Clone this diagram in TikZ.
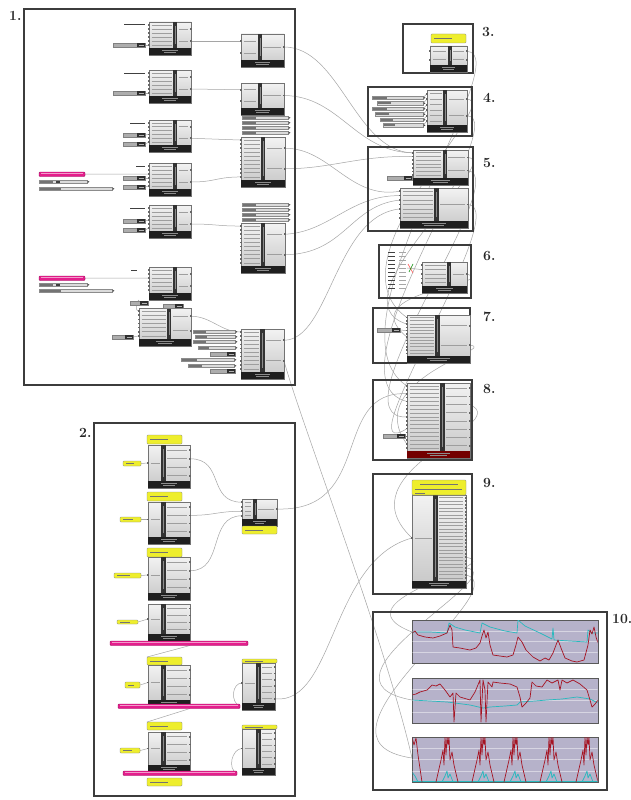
\documentclass[tikz,border=0pt]{standalone}
\usetikzlibrary{calc}
\pgfdeclarelayer{bg}
\pgfsetlayers{bg,main}
\definecolor{framec}{RGB}{60,60,60}
\definecolor{wirec}{RGB}{165,165,165}
\definecolor{magc}{RGB}{228,30,140}
\definecolor{yelc}{RGB}{238,238,45}
\definecolor{chbg}{RGB}{182,178,202}
\definecolor{redc}{RGB}{165,20,35}
\definecolor{tealc}{RGB}{40,185,190}
\colorlet{gridc}{chbg!55!white}
\tikzset{
 comp/.style={draw=black!55, line width=0.4pt, top color=black!5, bottom color=black!22, inner sep=0pt, outer sep=0pt, rectangle},
 stripc/.style={fill=black!80},
 barc/.style={fill=black!88},
 txtl/.style={draw=black!38, line width=0.8pt},
 wire/.style={draw=wirec, line width=0.5pt},
 frame/.style={draw=framec, line width=1.1pt},
 lbl/.style={font=\fontsize{14}{14}\selectfont\bfseries, anchor=north west, inner sep=0pt, text=black!85},
 ypan/.style={fill=yelc, draw=black!45, line width=0.4pt, inner sep=0pt, outer sep=0pt, rounded corners=0.8pt},
 magbar/.style={fill=magc, draw=magc!70!black, line width=0.4pt, inner sep=0pt, outer sep=0pt, rounded corners=1pt},
 slid/.style={fill=black!14, draw=black!45, line width=0.4pt, inner sep=0pt, outer sep=0pt},
 parbox/.style={fill=black!32, draw=black!50, line width=0.3pt, inner sep=0pt, outer sep=0pt},
 chart/.style={fill=chbg, draw=black!65, line width=1pt, inner sep=0pt, outer sep=0pt},
 redl/.style={draw=redc, line width=0.7pt, line join=round},
 teall/.style={draw=tealc, line width=0.7pt, line join=round},
}
% component: name, x, y, w, h, strip fraction, inputs, outputs
\newcommand\ghc[8]{%
  \node[comp, minimum width=#4pt, minimum height=#5pt, anchor=north west] (#1) at (#2,#3) {};
  \pgfmathsetmacro\ghsx{#2+#6*#4}%
  \pgfmathsetmacro\ghbh{#5-9}%
  \fill[stripc] (\ghsx-2.3,#3) rectangle (\ghsx+2.3,#3+#5-7);
  \draw[black!45, line width=0.7pt] (\ghsx,#3+4) -- (\ghsx,#3+#5-11);
  \fill[barc] (#2,#3+#5-7) rectangle (#2+#4,#3+#5);
  \draw[black!45, line width=0.6pt] (#2+#4*0.32,#3+#5-5) -- (#2+#4*0.68,#3+#5-5);
  \draw[black!45, line width=0.6pt] (#2+#4*0.36,#3+#5-2.3) -- (#2+#4*0.64,#3+#5-2.3);
  \foreach \i in {1,...,#7}{%
    \pgfmathsetmacro\ghy{#3+1+(\i-0.5)*\ghbh/#7}%
    \coordinate (#1-i\i) at (#2,\ghy);
    \draw[txtl] (#2+2.5,\ghy) -- (\ghsx-3.5,\ghy);
    \fill[black!60] (#2-0.8,\ghy-0.8) rectangle (#2+0.8,\ghy+0.8);
  }%
  \foreach \i in {1,...,#8}{%
    \pgfmathsetmacro\ghy{#3+1+(\i-0.5)*\ghbh/#8}%
    \coordinate (#1-o\i) at (#2+#4,\ghy);
    \draw[txtl] (\ghsx+3.5,\ghy) -- (#2+#4-3.5,\ghy);
    \fill[black!60] (#2+#4-0.8,\ghy-0.8) rectangle (#2+#4+0.8,\ghy+0.8);
  }%
}
% slider: name, x, y, w
\newcommand\gsl[4]{%
  \node[slid, minimum width=#4pt, minimum height=3.6pt, anchor=north west] (#1) at (#2,#3) {};
  \fill[black!55] (#2+0.7,#3+0.7) rectangle (#2+#4*0.3,#3+2.9);
  \fill[black!70] (#2+#4+0.5,#3+0.6) -- (#2+#4+2.5,#3+1.8) -- (#2+#4+0.5,#3+3) -- cycle;
}
% parameter pair: name, x, y, w
\newcommand\gpar[4]{%
  \node[parbox, minimum width=#4pt, minimum height=4pt, anchor=north west] (#1) at (#2,#3) {};
  \fill[black!82] (#2+#4-8,#3) rectangle (#2+#4,#3+4);
  \draw[black!30, line width=0.5pt] (#2+#4-6.5,#3+2) -- (#2+#4-1.5,#3+2);
}
% yellow panel: name, x, y, w, h
\newcommand\ypl[5]{%
  \node[ypan, minimum width=#4pt, minimum height=#5pt, anchor=north west] (#1) at (#2,#3) {};
  \draw[black!55, line width=0.6pt] (#2+3,#3+#5/2) -- (#2+#4*0.6,#3+#5/2);
}
% magenta bar: name, x, y, w
\newcommand\mgb[4]{%
  \node[magbar, minimum width=#4pt, minimum height=4.5pt, anchor=north west] (#1) at (#2,#3) {};
  \draw[magc!45!white, line width=0.6pt] (#2+2,#3+1.4) -- (#2+#4-2,#3+1.4);
}
% dark label line: x1, x2, y
\newcommand\dtl[3]{\draw[black!75, line width=1pt] (#1,#3) -- (#2,#3);}

\begin{document}
\begin{tikzpicture}[x=1pt,y=-1pt]
\useasboundingbox (0,0) rectangle (631,800);
\begin{pgfonlayer}{bg}
\fill[white] (0,0) rectangle (631,800);
\end{pgfonlayer}

% ---------- frames and labels ----------
\draw[frame] (24,9) rectangle (295,385);
\draw[frame] (94,423) rectangle (295,796);
\draw[frame] (403,24) rectangle (473,73);
\draw[frame] (368,87) rectangle (472,136);
\draw[frame] (368,147) rectangle (473,231);
\draw[frame] (379,245) rectangle (471,298);
\draw[frame] (373,308) rectangle (470,363);
\draw[frame] (373,380) rectangle (472,460);
\draw[frame] (373,474) rectangle (472,594);
\draw[frame] (373,612) rectangle (607,790);
\node[lbl] (L1) at (9,11) {1.};
\node[lbl] (L2) at (79,428) {2.};
\node[lbl] (L3) at (482,27) {3.};
\node[lbl] (L4) at (483,93) {4.};
\node[lbl] (L5) at (483,158) {5.};
\node[lbl] (L6) at (483,251) {6.};
\node[lbl] (L7) at (483,312) {7.};
\node[lbl] (L8) at (483,384) {8.};
\node[lbl] (L9) at (483,478) {9.};
\node[lbl] (L10) at (612,614) {10.};

% ---------- panel 1 ----------
\ghc{A1}{149}{22}{42}{33}{0.62}{6}{2}
\ghc{B1}{241}{34}{43}{33}{0.44}{2}{1}
\ghc{A2}{149}{70}{42}{33}{0.62}{6}{2}
\ghc{B2}{241}{83}{43}{32}{0.44}{2}{1}
\ghc{A3}{149}{120}{42}{32}{0.62}{6}{2}
\ghc{B3}{241}{137}{44}{50}{0.5}{10}{2}
\ghc{A4}{149}{163}{42}{33}{0.62}{6}{2}
\ghc{A5}{149}{205}{42}{33}{0.62}{6}{2}
\ghc{B4}{241}{223}{44}{50}{0.5}{10}{2}
\ghc{A6}{149}{267}{42}{33}{0.62}{6}{2}
\ghc{A7}{139}{308}{52}{38}{0.58}{7}{2}
\ghc{B5}{241}{329}{43}{50}{0.5}{10}{2}
\dtl{124}{145}{25}
\dtl{124}{145}{73}
\dtl{130}{145}{123}
\dtl{136}{145}{166}
\dtl{130}{145}{208}
\dtl{131}{137}{270}
\gpar{A1p}{113}{43}{32}
\gpar{A2p}{113}{91}{32}
\gpar{A3p}{123}{133}{22}
\gpar{A3q}{123}{142}{22}
\gpar{A4p}{123}{176}{22}
\gpar{A4q}{123}{185}{22}
\gpar{A5p}{123}{219}{22}
\gpar{A5q}{123}{228}{22}
\gpar{A6q}{130}{301}{18}
\gpar{A6r}{163}{304}{20}
\gpar{A7p}{112}{335}{21}
\gsl{s1}{242}{116}{46}
\gsl{s2}{242}{121}{46}
\gsl{s3}{242}{126}{46}
\gsl{s4}{242}{131}{46}
\gsl{s5}{242}{203}{46}
\gsl{s6}{242}{208}{46}
\gsl{s7}{242}{213}{46}
\gsl{s8}{242}{218}{46}
\gsl{t1}{193}{330}{42}
\gsl{t2}{195}{335}{40}
\gsl{t3}{193}{340}{42}
\gsl{t4}{198}{346}{37}
\gpar{t5}{210}{352}{25}
\gsl{t6}{181}{358}{53}
\gsl{t7}{188}{364}{46}
\gpar{t8}{210}{369}{25}
\mgb{m1}{39}{172}{46}
\gsl{u1}{39}{180}{48}
\fill[black!75] (56,180.5) rectangle (60,183.2);
\gsl{u2}{39}{187}{73}
\mgb{m2}{39}{276}{46}
\gsl{u3}{39}{283}{48}
\fill[black!75] (56,283.5) rectangle (60,286.2);
\gsl{u4}{39}{289}{73}

% ---------- panel 2 ----------
\ypl{Y1}{147}{435}{35}{9}
\ghc{C1}{148}{445}{42}{43}{0.37}{1}{4}
\ypl{Y1i}{123}{461}{18}{5}
\ypl{Y2}{147}{492}{35}{9}
\ghc{C2}{148}{502}{42}{42}{0.37}{1}{4}
\ypl{Y2i}{120}{517}{21}{5}
\ypl{Y3}{147}{548}{35}{9}
\ghc{C3}{148}{557}{42}{43}{0.37}{1}{4}
\ypl{Y3i}{114}{573}{27}{5}
\ghc{C4}{148}{604}{42}{37}{0.37}{1}{4}
\ypl{Y4i}{117}{620}{21}{4}
\mgb{mg1}{110}{641}{138}
\ypl{Y5}{147}{657}{35}{8}
\ghc{C5}{148}{665}{42}{42}{0.37}{1}{4}
\ypl{Y5i}{125}{682}{15}{6}
\mgb{mg2}{118}{704}{122}
\ypl{Y6}{147}{722}{35}{8}
\ghc{C6}{148}{732}{42}{40}{0.37}{1}{4}
\ypl{Y6i}{120}{748}{20}{5}
\mgb{mg3}{123}{771}{114}
\ypl{Y7}{147}{778}{35}{8}
\ghc{M}{242}{499}{35}{27}{0.37}{4}{1}
\ypl{Mq}{242}{526}{35}{8}
\ypl{D1y}{242}{659}{35}{4}
\ghc{D1}{242}{663}{33}{47}{0.5}{1}{6}
\ypl{D2y}{242}{725}{35}{4}
\ghc{D2}{242}{729}{33}{46}{0.5}{1}{6}

% ---------- panel 3 ----------
\ypl{P3y}{431}{34}{35}{9}
\ghc{P3}{430}{46}{37}{26}{0.54}{2}{2}

% ---------- panel 4 ----------
\gsl{q1}{372}{96}{51}
\gsl{q2}{377}{101.5}{46}
\gsl{q3}{372}{107}{51}
\gsl{q4}{375}{112.5}{48}
\gsl{q5}{380}{118}{43}
\gsl{q6}{383}{123.5}{40}
\ghc{P4}{427}{90}{40}{42}{0.45}{6}{2}

% ---------- panel 5 ----------
\ghc{P5a}{413}{150}{55}{35}{0.58}{7}{2}
\gpar{P5p}{387}{176}{25}
\ghc{P5b}{400}{188}{68}{40}{0.54}{7}{1}

% ---------- panel 6 ----------
\foreach \k in {0,...,9}{
  \draw[black!75, line width=0.9pt] (388,252+4*\k) -- (395,252+4*\k);
  \draw[black!35, line width=0.7pt] (399,252+4*\k) -- (406,252+4*\k);
}
\coordinate (P6L) at (407,268);
\draw[red!65, line width=0.6pt] (408,264) -- (413,273);
\draw[green!55!black, line width=0.6pt] (413,264) -- (409,272);
\ghc{P6}{422}{262}{45}{31}{0.6}{5}{1}

% ---------- panel 7 ----------
\gpar{P7p}{377}{328}{23}
\ghc{P7}{407}{315}{63}{48}{0.48}{12}{2}

% ---------- panel 8 ----------
\gpar{P8p}{383}{434}{22}
\begin{scope}[barc/.style={fill=red!45!black}]
\ghc{P8}{407}{383}{63}{75}{0.56}{17}{8}
\end{scope}

% ---------- panel 9 ----------
\ghc{P9}{412}{495}{54}{93}{0.435}{1}{24}
\node[ypan, minimum width=54pt, minimum height=15pt, anchor=north west] (P9y) at (412,480) {};
\draw[black!55, line width=0.6pt] (420,484) -- (458,484);
\draw[black!55, line width=0.6pt] (415,489) -- (462,489);
\draw[black!55, line width=0.6pt] (415,493) -- (425,493);

% ---------- panel 10 charts ----------
\node[chart, minimum width=186pt, minimum height=43pt, anchor=north west] (ch1) at (412,620) {};
\node[chart, minimum width=186pt, minimum height=45pt, anchor=north west] (ch2) at (412,678) {};
\node[chart, minimum width=186pt, minimum height=45pt, anchor=north west] (ch3) at (412,737) {};
\coordinate (c1in) at (412,632);
\coordinate (c2in) at (412,700);
\coordinate (c3in) at (412,758);
\begin{scope}
\clip (412.5,620.5) rectangle (597.5,662.5);
\foreach \k in {1,2,3} \draw[gridc, line width=0.4pt] (412,620+10.75*\k) -- (598,620+10.75*\k);
\draw[teall] (412,632) -- (430,632) -- (447,633) -- (449,623) -- (455,627) -- (465,630) -- (480,633) -- (482,623) -- (490,627) -- (505,631) -- (517,633) -- (518,620) -- (525,626) -- (540,633) -- (552,639) -- (553,628) -- (554,640) -- (570,641) -- (587,642) -- (588,630) -- (592,633) -- (598,633);
\draw[redl] (412,633) -- (415,631) -- (418,635) -- (425,637) -- (433,638) -- (440,636) -- (447,633) -- (450,625) -- (452,630) -- (453,647) -- (460,648) -- (470,650) -- (476,648) -- (480,643) -- (482,636) -- (484,630) -- (486,638) -- (488,632) -- (490,645) -- (493,655) -- (500,656) -- (507,657) -- (513,655) -- (516,645) -- (518,637) -- (522,642) -- (526,650) -- (533,657) -- (540,661) -- (545,658) -- (549,660) -- (553,653) -- (556,645) -- (558,640) -- (561,648) -- (565,658) -- (572,661) -- (577,662) -- (584,660) -- (588,645) -- (590,630) -- (592,634) -- (594,627) -- (596,637) -- (598,643);
\end{scope}
\begin{scope}
\clip (412.5,678.5) rectangle (597.5,722.5);
\foreach \k in {1,2,3} \draw[gridc, line width=0.4pt] (412,678+11.25*\k) -- (598,678+11.25*\k);
\draw[teall] (412,700) -- (430,701) -- (447,702) -- (455,703) -- (470,705) -- (483,708) -- (490,707) -- (505,706) -- (517,705) -- (520,702) -- (535,701) -- (547,700) -- (562,699) -- (577,697) -- (590,699) -- (598,703);
\draw[redl] (412,695) -- (416,694) -- (420,692) -- (427,690) -- (432,685) -- (436,686) -- (440,684) -- (445,690) -- (450,697) -- (453,693) -- (454,722) -- (456,693) -- (460,697) -- (470,700) -- (475,692) -- (480,680) -- (481,722) -- (483,680) -- (485,690) -- (486,722) -- (488,682) -- (492,687) -- (493,682) -- (500,683) -- (510,684) -- (517,687) -- (520,697) -- (522,707) -- (526,703) -- (530,698) -- (532,682) -- (536,686) -- (542,687) -- (547,680) -- (552,683) -- (558,680) -- (560,690) -- (562,680) -- (567,683) -- (573,680) -- (580,684) -- (587,690) -- (590,700) -- (592,707) -- (595,704) -- (598,700);
\end{scope}
\begin{scope}
\clip (412.5,737.5) rectangle (597.5,781.5);
\foreach \k in {1,2,3} \draw[gridc, line width=0.4pt] (412,737+11.25*\k) -- (598,737+11.25*\k);
\draw[teall] (412,781) -- (598,781);
\draw[redl] (412,737) -- (414,745) -- (416,738) -- (418,755) -- (422,782);
\draw[teall] (412,772) -- (415,776) -- (418,782);
\foreach \c in {447,483,515,551,587}{
  \draw[redl] (\c-11,782) -- (\c-6,760) -- (\c-4,750) -- (\c-3,765) -- (\c-2,737) -- (\c-1,755) -- (\c,737) -- (\c+1,745) -- (\c+2,737) -- (\c+3,760) -- (\c+5,752) -- (\c+7,765) -- (\c+11,782);
  \draw[teall] (\c-5,782) -- (\c-2,776) -- (\c,771) -- (\c+1,778) -- (\c+3,774) -- (\c+6,782);
}
\end{scope}

% ---------- wires (behind) ----------
\begin{pgfonlayer}{bg}
% panel 1 internal
\draw[wire] (A1p.east) -- (A1-i6);
\draw[wire] (A2p.east) -- (A2-i6);
\draw[wire] (A3p.east) -- (A3-i4);
\draw[wire] (A3q.east) -- (A3-i6);
\draw[wire] (A4p.east) -- (A4-i4);
\draw[wire] (A4q.east) -- (A4-i6);
\draw[wire] (A5p.east) -- (A5-i4);
\draw[wire] (A5q.east) -- (A5-i6);
\draw[wire] (A7p.east) -- (A7-i7);
\draw[wire] (m1.east) -- (A4-i3);
\draw[wire] (m2.east) -- (A6-i3);
\draw[wire] (A1-o2) -- (B1-i1);
\draw[wire] (A2-o2) -- (B2-i1);
\draw[wire] (A3-o2) .. controls +(25,0) and +(-25,0) .. (B3-i1);
\draw[wire] (A4-o2) .. controls +(25,0) and +(-25,0) .. (B3-i10);
\draw[wire] (A5-o2) .. controls +(25,0) and +(-25,0) .. (B4-i1);
\draw[wire] (A7-o1) .. controls +(20,0) and +(-20,0) .. (B5-i1);
\draw[wire] (A6q.north) .. controls +(0,-4) and +(-6,0) .. (A7-i1);
% panel 2 internal
\draw[wire] (Y1i.east) -- (C1-i1);
\draw[wire] (Y2i.east) -- (C2-i1);
\draw[wire] (Y3i.east) -- (C3-i1);
\draw[wire] (Y4i.east) -- (C4-i1);
\draw[wire] (Y5i.east) -- (C5-i1);
\draw[wire] (Y6i.east) -- (C6-i1);
\draw[wire] (C1-o2) .. controls +(35,0) and +(-35,0) .. (M-i1);
\draw[wire] (C2-o2) .. controls +(25,0) and +(-25,0) .. (M-i3);
\draw[wire] (C3-o2) .. controls +(35,0) and +(-35,0) .. (M-i4);
\draw[wire] ($(mg1.south west)!0.58!(mg1.south east)$) -- (Y5.north west);
\draw[wire] ($(mg2.south west)!0.59!(mg2.south east)$) -- (Y6.north west);
\draw[wire] (mg2.east) .. controls +(-10,-4) and +(-10,0) .. (D1-i1);
\draw[wire] (mg3.east) .. controls +(-10,-4) and +(-10,0) .. (D2-i1);
% right panels internal
\draw[wire] (q1.east) -- (P4-i1);
\draw[wire] (q2.east) -- (P4-i2);
\draw[wire] (q3.east) -- (P4-i3);
\draw[wire] (q4.east) -- (P4-i4);
\draw[wire] (q5.east) -- (P4-i5);
\draw[wire] (q6.east) -- (P4-i6);
\draw[wire] (P5p.east) -- (P5a-i7);
\draw[wire] (P6L) -- (P6-i2);
\draw[wire] (P7p.east) -- (P7-i5);
\draw[wire] (P8p.east) -- (P8-i14);
% long wires panel 1 -> right
\draw[wire] (B1-o1) .. controls (340,47) and (355,152) .. (P5a-i1);
\draw[wire] (B2-o1) .. controls (340,96) and (355,152) .. (P5a-i1);
\draw[wire] (B3-o2) .. controls (330,169) and (360,155) .. (P5a-i2);
\draw[wire] (B3-o1) .. controls (330,148) and (350,200) .. (P5b-i1);
\draw[wire] (B4-o1) .. controls (330,232) and (350,195) .. (P5b-i2);
\draw[wire] (B4-o2) .. controls (345,254) and (350,205) .. (P5b-i3);
\draw[wire] (B5-o1) .. controls (330,340) and (335,215) .. (P5b-i5);
\draw[wire] (B5-o2) .. controls (300,420) and (385,640) .. (c3in);
% loops between right panels
\draw[wire] (P3-o1) .. controls (520,55) and (320,330) .. (P8-i1);
\draw[wire] (P4-o2) .. controls (515,118) and (320,380) .. (P8-i5);
\draw[wire] (P4-o1) .. controls (505,100) and (325,260) .. (P7-i1);
\draw[wire] (P5a-o1) .. controls (505,160) and (330,300) .. (P7-i3);
\draw[wire] (P5a-o2) .. controls (515,178) and (330,420) .. (P8-i9);
\draw[wire] (P5b-o1) .. controls (515,208) and (340,470) .. (P8-i12);
\draw[wire] (P6-o1) .. controls (500,285) and (350,290) .. (P7-i7);
\draw[wire] (P7-o2) .. controls (500,348) and (360,380) .. (P8-i16);
\draw[wire] (P8-o3) .. controls (515,425) and (340,470) .. (P9-i1);
\draw[wire] (M-o1) .. controls (375,512) and (330,390) .. (P8-i3);
\draw[wire] (D1-o6) .. controls (335,705) and (330,560) .. (P9-i1);
\draw[wire] (P9-o18) .. controls (510,565) and (330,600) .. (c1in);
\draw[wire] (P9-o21) .. controls (515,575) and (300,680) .. (c2in);
\draw[wire] (P9-o23) .. controls (520,590) and (290,740) .. (c3in);
\end{pgfonlayer}
\end{tikzpicture}
\end{document}
